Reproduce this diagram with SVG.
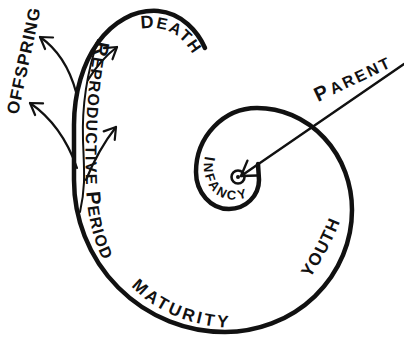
<svg xmlns="http://www.w3.org/2000/svg" width="404" height="338" viewBox="0 0 404 338">
<style>
.ln{fill:none;stroke:#111;stroke-linecap:round;stroke-linejoin:round}
.sp{stroke-width:4.5}
.th{stroke-width:2.2}
.lb{font-family:"Liberation Sans",Arial,sans-serif;font-weight:bold;font-size:16px;fill:#111}
.big{font-size:20px}
</style>
<defs>
<marker id="ah" markerUnits="userSpaceOnUse" markerWidth="30" markerHeight="30" viewBox="-15 -15 30 30" refX="0" refY="0" orient="auto" overflow="visible">
<path d="M -11,-7 L 0,0 L -11,7" fill="none" stroke="#111" stroke-width="2.2" stroke-linecap="round" stroke-linejoin="round"/>
</marker>
<marker id="ahp" markerUnits="userSpaceOnUse" markerWidth="40" markerHeight="40" viewBox="-20 -20 40 40" refX="0" refY="0" orient="auto" overflow="visible">
<path d="M -14,-9 L 0,0 L -14,9" fill="none" stroke="#111" stroke-width="2.4" stroke-linecap="round" stroke-linejoin="round"/>
</marker>
<path id="pDeath" d="M 141,29 Q 178,22 197,62"/>
<path id="pRepro" d="M 96,41 C 88,80 84,130 86,185 C 87,215 93,240 104,262"/>
<path id="pMat" d="M 131,286 Q 170,326 234,328"/>
<path id="pYouth" d="M 310,278 Q 328,252 341,219"/>
<path id="pInf" d="M 205,156 C 199,186 220,210 252,195"/>
</defs>
<rect width="404" height="338" fill="#fff"/>
<g id="connectors">
<path id="spiral" class="ln sp" d="M 258,164 L 259,180 A 30,29 0 0 1 229,209 A 33,37 0 0 1 196,172 A 61,64 0 0 1 257,108 A 95,102 0 0 1 352,210 A 127,122 0 0 1 225,332 A 151,152 0 0 1 74,180 L 74,125 C 74,60 110,8 158,11 C 182,13 198,32 205,48"/>
<path id="reproductive-branch" class="ln" stroke-width="2" d="M 98,40 C 86,75 82,110 83,140 C 84,170 86,185 80,212"/>
<path id="parent-line" class="ln" stroke-width="2.4" d="M 404,64 L 241,176" marker-end="url(#ahp)"/>
<path id="offspring-1" class="ln th" d="M 77,168 Q 62,125 30,103" marker-end="url(#ah)"/>
<path id="offspring-2" class="ln th" d="M 76,92 Q 66,55 40,37" marker-end="url(#ah)"/>
<path id="offspring-3" class="ln th" d="M 88,80 Q 100,60 117,47" marker-end="url(#ah)"/>
<path id="offspring-4" class="ln th" d="M 86,180 Q 98,150 116,127" marker-end="url(#ah)"/>
</g>
<g id="origin">
<circle cx="238" cy="177" r="6.5" fill="none" stroke="#111" stroke-width="2.6"/>
<circle cx="238" cy="177" r="2" fill="#111"/>
</g>
<g id="label-parent">
<text class="lb" transform="translate(318,102) rotate(-25.5)" textLength="81" lengthAdjust="spacing"><tspan class="big">P</tspan><tspan dx="1">ARENT</tspan></text>
</g>
<g id="label-infancy">
<text class="lb" style="font-size:13px"><textPath href="#pInf" textLength="74" lengthAdjust="spacing"><tspan style="font-size:15px">I</tspan>NFANCY</textPath></text>
</g>
<g id="label-youth">
<text class="lb" style="font-size:17px"><textPath href="#pYouth" textLength="64" lengthAdjust="spacing">YOUTH</textPath></text>
</g>
<g id="label-maturity">
<text class="lb" style="font-size:17px"><textPath href="#pMat" textLength="108" lengthAdjust="spacing">MATURITY</textPath></text>
</g>
<g id="label-reproductive-period">
<text class="lb"><textPath href="#pRepro" textLength="222" lengthAdjust="spacing"><tspan class="big">R</tspan>EPRODUCTIVE <tspan class="big">P</tspan>ERIOD</textPath></text>
</g>
<g id="label-death">
<text class="lb"><textPath href="#pDeath" textLength="62" lengthAdjust="spacing"><tspan style="font-size:18px">D</tspan>EATH</textPath></text>
</g>
<g id="label-offspring">
<text class="lb" style="font-size:17px" transform="translate(18,115) rotate(-78)" textLength="108" lengthAdjust="spacing">OFFSPRING</text>
</g>
</svg>
